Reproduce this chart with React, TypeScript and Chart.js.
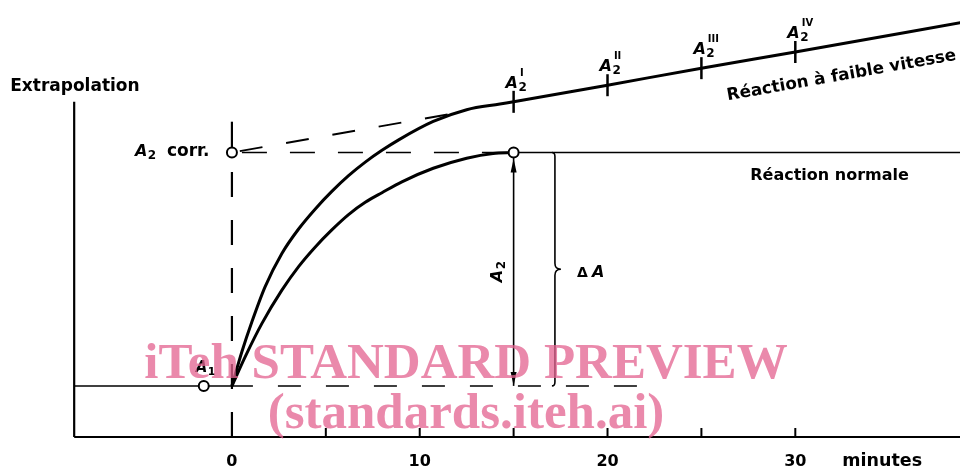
import React, { useEffect, useRef } from "react";
import { Chart, registerables } from "chart.js";
Chart.register(...registerables);

// ---- data (minutes on x, extinction in arbitrary units on y) ----
const minuteLabels = [0, 10, 20, 30];
const minorTicks = [5, 10, 15, 20, 25, 30];
const A1 = 11.7;
const A2corr = 65.1;
const axisStart = -8.4;
const axisEnd = 38.8;
const axisTop = 76.7;

const slowX = [0, 0.53, 1.06, 1.77, 2.66, 3.55, 4.44, 5.32, 6.21, 7.1, 7.99, 8.88, 10.72, 12.5, 14.27, 15, 20, 25, 30, 38.8];
const slowY = [11.7, 19.5, 26.3, 34.4, 42.0, 47.6, 52.2, 56.2, 59.8, 62.9, 65.6, 68.0, 72.2, 74.9, 76.2, 76.7, 80.5, 84.4, 88.1, 94.8];

const normalX = [0, 0.71, 1.6, 2.66, 3.55, 4.44, 5.32, 6.21, 7.1, 7.99, 9.05, 10.72, 12.5, 13.91, 15];
const normalY = [11.7, 18.4, 26.0, 33.6, 39.0, 43.5, 47.4, 50.9, 53.7, 55.9, 58.4, 61.5, 63.8, 64.9, 65.1];

const extrapX = [0, 11.6];
const extrapY = [65.1, 73.9];

const markX = [15, 20, 25, 30];
const markY = [76.7, 80.5, 84.4, 88.1];
const markSup = ["I", "II", "III", "IV"];

const A1PointX = -1.5;
const A1DashEnd = 21.7;
const A2CorrSolidTop = 72.15;
const braceX = 17.2;

const X_MIN = -12.35;
const X_MAX = 38.77;
const Y_MIN = -7.09;
const Y_MAX = 100;

const FONT = '"DejaVu Sans", sans-serif';

const pts = (xs: number[], ys: number[]) => xs.map((x, i) => ({ x, y: ys[i] }));

const drawA = (ctx: CanvasRenderingContext2D, x: number, y: number, sub: string, sup?: string, size = 16) => {
  ctx.font = `italic bold ${size}px ${FONT}`;
  ctx.textAlign = "left";
  ctx.textBaseline = "alphabetic";
  ctx.fillText("A", x, y);
  const w = ctx.measureText("A").width;
  ctx.font = `bold ${Math.round(size * 0.72)}px ${FONT}`;
  ctx.fillText(sub, x + w + 0.5, y + 3);
  if (sup) {
    ctx.font = `bold ${Math.round(size * 0.62)}px ${FONT}`;
    ctx.fillText(sup, x + w + 2, y - 12);
  }
  return w;
};

const overlay = {
  id: "overlay",
  afterDatasetsDraw(chart: any) {
    const ctx: CanvasRenderingContext2D = chart.ctx;
    const xs = chart.scales.x;
    const ys = chart.scales.y;
    const px = (v: number) => xs.getPixelForValue(v);
    const py = (v: number) => ys.getPixelForValue(v);
    ctx.save();
    ctx.fillStyle = "#000";
    ctx.strokeStyle = "#000";

    // minor ticks on x axis (pointing up)
    ctx.lineWidth = 2;
    for (const t of minorTicks) {
      ctx.beginPath();
      ctx.moveTo(px(t), py(0));
      ctx.lineTo(px(t), py(0) - 9);
      ctx.stroke();
    }
    // tick labels
    ctx.font = `bold 16px ${FONT}`;
    ctx.textAlign = "center";
    ctx.textBaseline = "alphabetic";
    for (const t of minuteLabels) ctx.fillText(String(t), px(t), py(0) + 29);
    ctx.textAlign = "left";
    ctx.font = `bold 17.5px ${FONT}`;
    ctx.fillText("minutes", px(30) + 47, py(0) + 29);

    // y title
    ctx.font = `bold 17px ${FONT}`;
    ctx.fillText("Extrapolation", px(axisStart) - 64, py(axisTop) - 11);

    // A2 corr.
    drawA(ctx, px(0) - 97, py(A2corr) + 3, "2");
    ctx.font = `bold 17px ${FONT}`;
    ctx.textAlign = "left";
    ctx.fillText("corr.", px(0) - 65, py(A2corr) + 3);

    // A1
    drawA(ctx, px(A1PointX) - 8, py(A1) - 14, "1", undefined, 15);

    // marks on the slow line
    ctx.lineWidth = 2.5;
    markX.forEach((mx, i) => {
      const x = px(mx);
      const y = py(markY[i]);
      ctx.beginPath();
      ctx.moveTo(x, y - 11);
      ctx.lineTo(x, y + 11);
      ctx.stroke();
      drawA(ctx, x - 8, y - 14, "2", markSup[i]);
    });

    // arrowheads on the A2 arrow
    const ax = px(15);
    const topTip = py(A2corr) + 6;
    const botTip = py(A1);
    ctx.beginPath();
    ctx.moveTo(ax, topTip);
    ctx.lineTo(ax - 3, topTip + 14);
    ctx.lineTo(ax + 3, topTip + 14);
    ctx.closePath();
    ctx.fill();
    ctx.beginPath();
    ctx.moveTo(ax, botTip);
    ctx.lineTo(ax - 3, botTip - 14);
    ctx.lineTo(ax + 3, botTip - 14);
    ctx.closePath();
    ctx.fill();

    // rotated A2 label
    ctx.save();
    ctx.translate(ax - 12, (py(A2corr) + py(A1)) / 2 + 13);
    ctx.rotate(-Math.PI / 2);
    drawA(ctx, 0, 0, "2");
    ctx.restore();

    // brace
    const bx = px(braceX);
    const bt = py(A2corr);
    const bb = py(A1);
    const bm = (bt + bb) / 2;
    ctx.lineWidth = 1.6;
    ctx.beginPath();
    ctx.moveTo(bx - 3, bt);
    ctx.quadraticCurveTo(bx, bt, bx, bt + 4);
    ctx.lineTo(bx, bm - 6);
    ctx.quadraticCurveTo(bx, bm, bx + 6, bm);
    ctx.quadraticCurveTo(bx, bm, bx, bm + 6);
    ctx.lineTo(bx, bb - 4);
    ctx.quadraticCurveTo(bx, bb, bx - 3, bb);
    ctx.stroke();
    ctx.font = `bold 14px ${FONT}`;
    ctx.fillText("\u0394", bx + 22, bm + 8);
    ctx.font = `italic bold 16px ${FONT}`;
    ctx.fillText("A", bx + 37, bm + 8);

    // Réaction normale
    ctx.font = `bold 16px ${FONT}`;
    ctx.fillText("Réaction normale", px(27.6), py(A2corr) + 27);

    // Réaction à faible vitesse (rotated along the line)
    const ang = Math.atan2(py(88.1) - py(80.5), px(30) - px(20));
    ctx.save();
    ctx.translate(px(26.4), py(85.5) + 37);
    ctx.rotate(ang);
    ctx.font = `bold 16.8px ${FONT}`;
    ctx.fillText("Réaction à faible vitesse", 0, 0);
    ctx.restore();

    ctx.restore();
  },
  afterDraw(chart: any) {
    const ctx: CanvasRenderingContext2D = chart.ctx;
    ctx.save();
    ctx.fillStyle = "rgba(228,100,145,0.76)";
    ctx.font = `bold 51px "Liberation Serif", serif`;
    ctx.textAlign = "center";
    ctx.textBaseline = "alphabetic";
    ctx.fillText("iTeh STANDARD PREVIEW", 466, 378);
    ctx.fillText("(standards.iteh.ai)", 466, 428);
    ctx.restore();
  },
};

export default function App() {
  const ref = useRef<HTMLCanvasElement>(null);
  useEffect(() => {
    document.body.style.margin = "0";
    const canvas = ref.current!;
    const line = (data: any[], opts: any = {}) => ({
      data,
      showLine: true,
      pointRadius: 0,
      borderColor: "#000",
      backgroundColor: "#000",
      borderWidth: 2,
      fill: false,
      ...opts,
    });
    const chart = new Chart(canvas, {
      type: "scatter",
      data: {
        datasets: [
          {
            data: [
              { x: A1PointX, y: A1 },
              { x: 0, y: A2corr },
              { x: 15, y: A2corr },
            ],
            showLine: false,
            pointRadius: 5,
            pointBorderWidth: 2,
            pointBackgroundColor: "#fff",
            pointBorderColor: "#000",
          } as any,
          line(pts(slowX, slowY), { borderWidth: 3, cubicInterpolationMode: "monotone" }),
          line(pts(normalX, normalY), { borderWidth: 3, cubicInterpolationMode: "monotone" }),
          line([{ x: 15, y: A2corr }, { x: axisEnd, y: A2corr }], { borderWidth: 1.6 }),
          line(pts(extrapX, extrapY), { borderWidth: 2, borderDash: [23, 24], borderDashOffset: 39 }),
          line([{ x: 0, y: A2corr }, { x: 15, y: A2corr }], { borderWidth: 1.6, borderDash: [25, 23], borderDashOffset: 38 }),
          line([{ x: 0, y: 0 }, { x: 0, y: A2corr }], { borderWidth: 2.2, borderDash: [25, 23] }),
          line([{ x: 0, y: A2corr }, { x: 0, y: A2CorrSolidTop }], { borderWidth: 2.2 }),
          line([{ x: axisStart, y: A1 }, { x: 0, y: A1 }], { borderWidth: 1.5 }),
          line([{ x: 0, y: A1 }, { x: A1DashEnd, y: A1 }], { borderWidth: 1.5, borderDash: [23, 25], borderDashOffset: 2 }),
          line([{ x: 15, y: A1 }, { x: 15, y: A2corr }], { borderWidth: 1.6 }),
          line([{ x: axisStart, y: 0 }, { x: axisEnd, y: 0 }], { borderWidth: 2.2 }),
          line([{ x: axisStart, y: 0 }, { x: axisStart, y: axisTop }], { borderWidth: 2.2 }),
        ],
      },
      options: {
        responsive: false,
        animation: false,
        events: [],
        layout: { padding: 0, autoPadding: false },
        plugins: { legend: { display: false }, tooltip: { enabled: false } },
        scales: {
          x: { type: "linear", min: X_MIN, max: X_MAX, display: false },
          y: { type: "linear", min: Y_MIN, max: Y_MAX, display: false },
        },
      } as any,
      plugins: [overlay],
    });
    return () => chart.destroy();
  }, []);
  return <canvas ref={ref} width={960} height={468} style={{ display: "block" }} />;
}
